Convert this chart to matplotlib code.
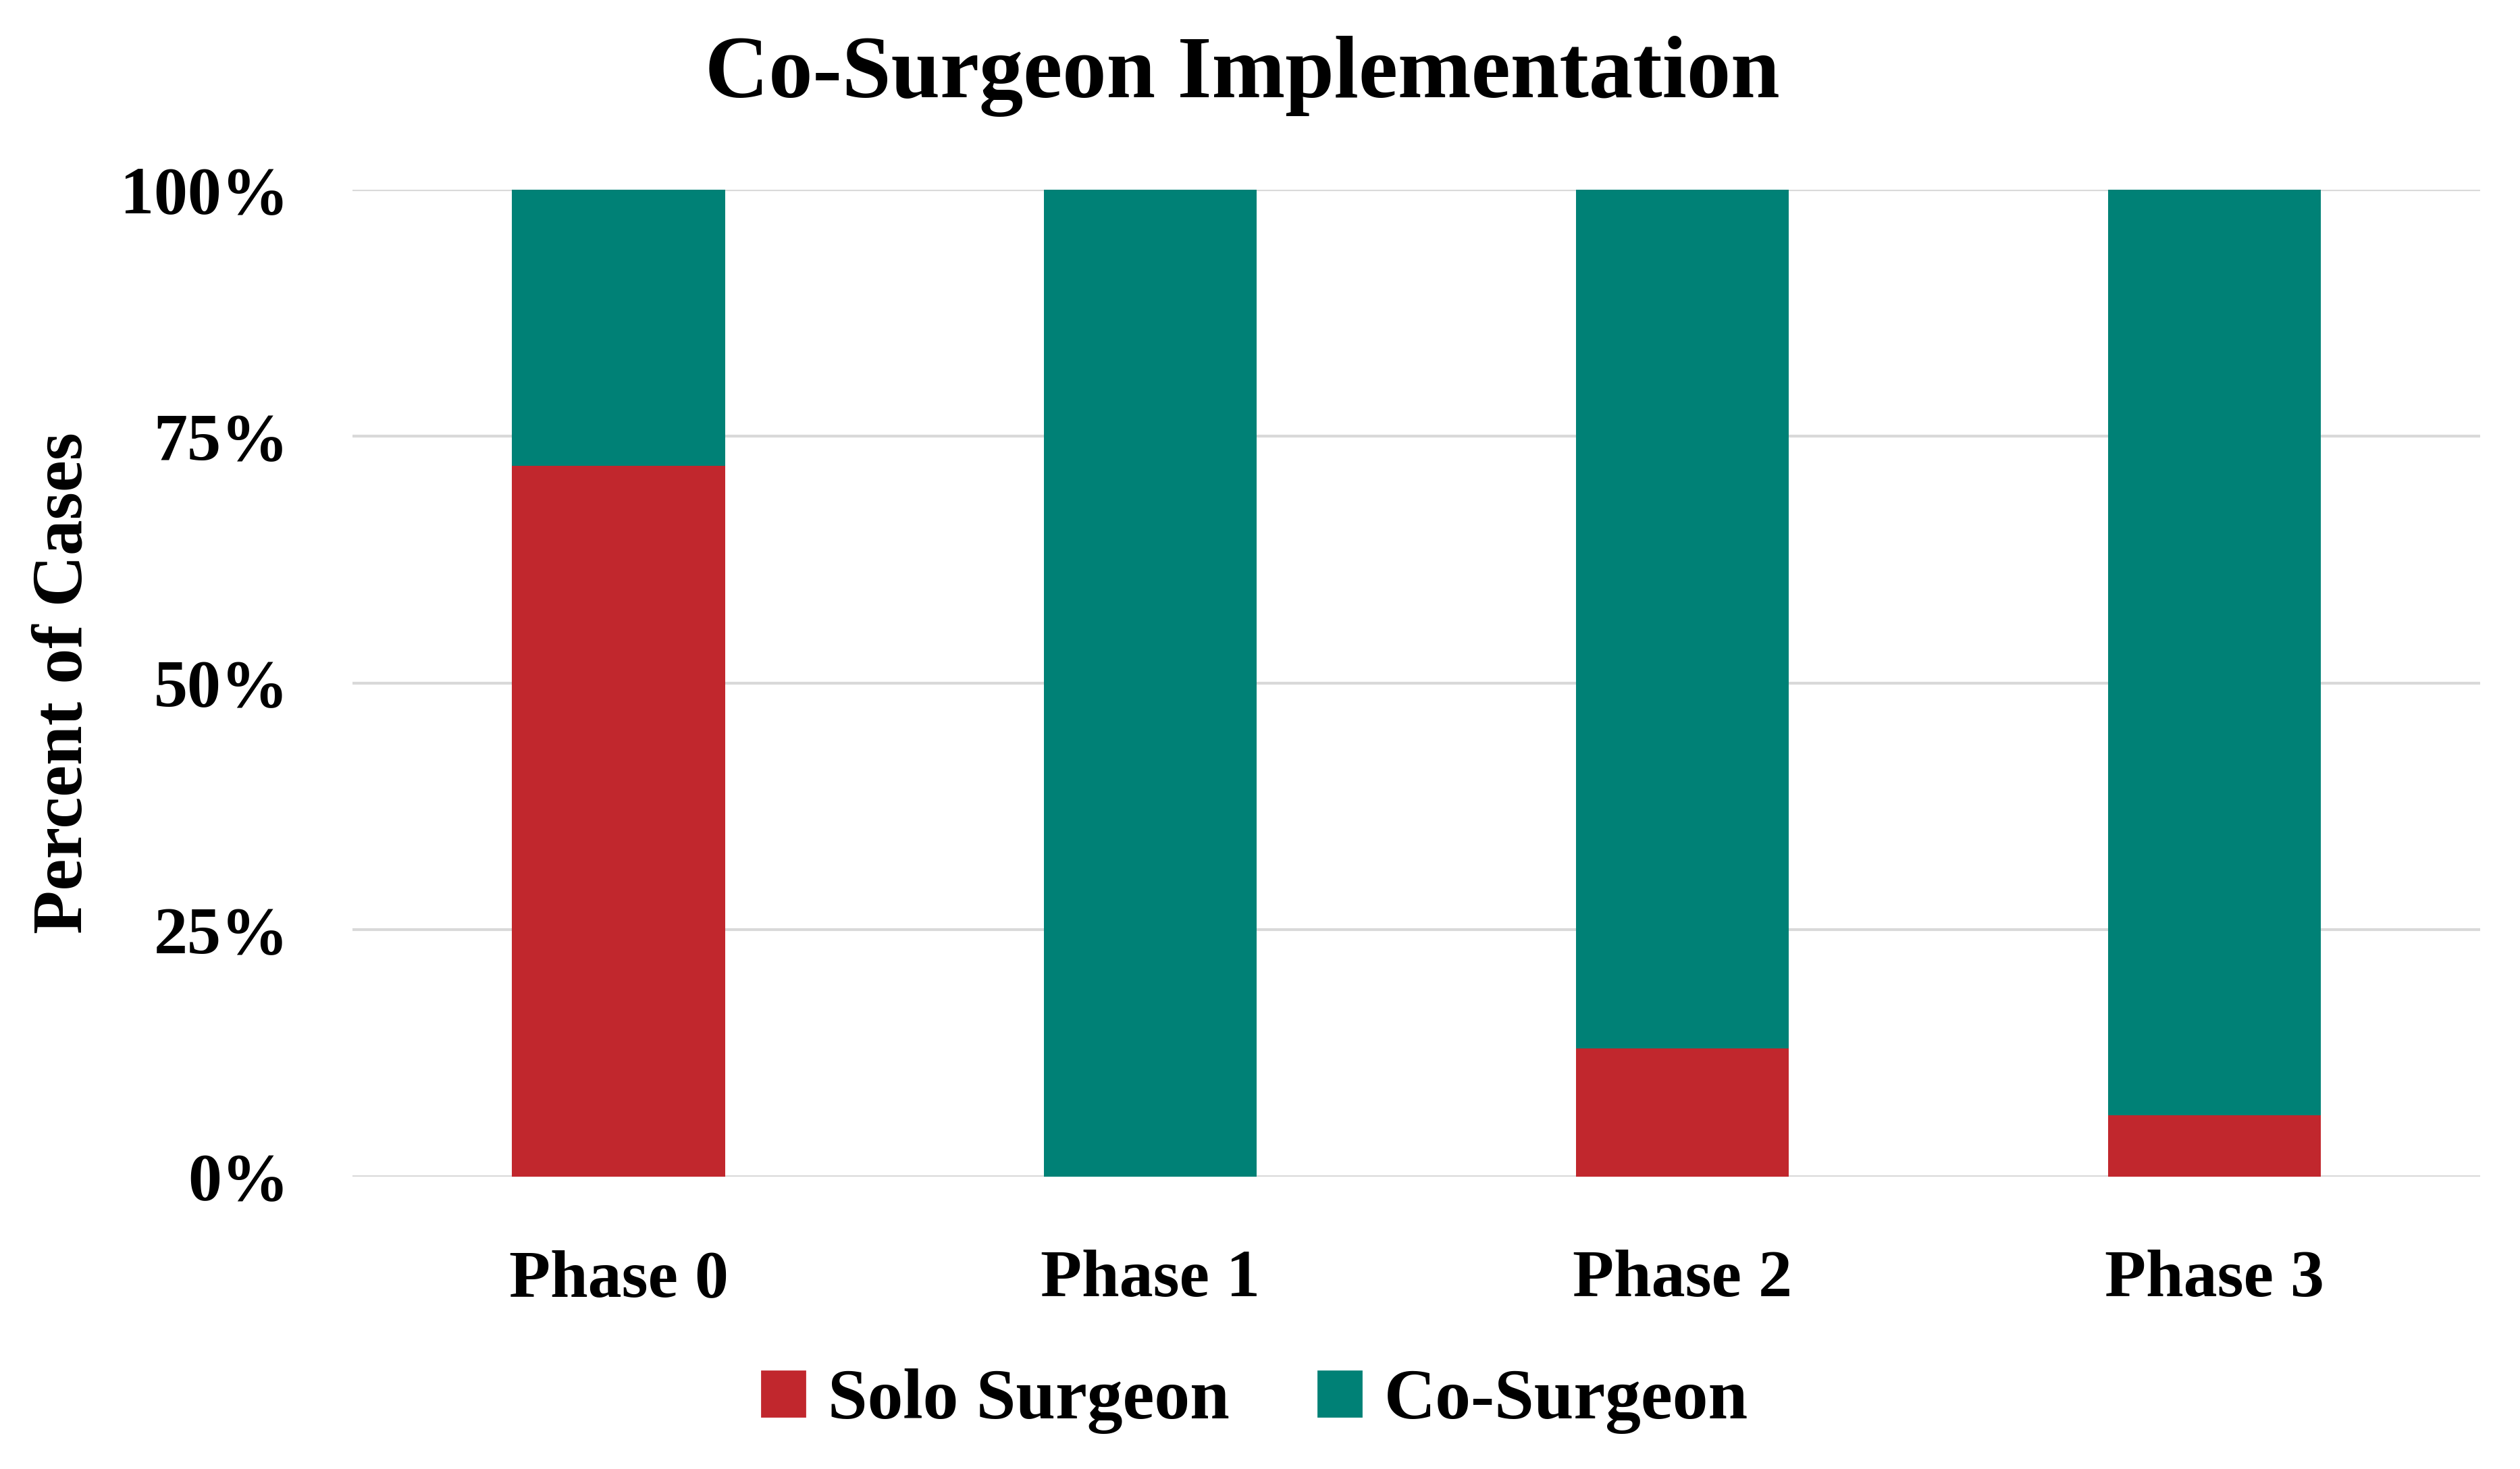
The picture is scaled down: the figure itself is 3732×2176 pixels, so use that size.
import numpy as np
import matplotlib.pyplot as plt
from matplotlib.ticker import PercentFormatter
from matplotlib.patches import Patch

# dados do grafico (fracao de casos)
fases = ['Phase 0', 'Phase 1', 'Phase 2', 'Phase 3']
solo = np.array([0.72, 0.0, 0.13, 0.062])
co = 1 - solo
series = ['Solo Surgeon', 'Co-Surgeon']
cores = ['#C1272D', '#008176']

plt.rcParams['font.family'] = ['Liberation Serif', 'DejaVu Serif']
plt.rcParams['font.weight'] = 'bold'

fig = plt.figure(figsize=(18.66, 10.88), dpi=200)
ax = fig.add_axes([0.1399, 0.199, 0.8443, 0.672])

x = np.arange(len(fases))
ax.bar(x, solo, width=0.4, color=cores[0], zorder=3)
ax.bar(x, co, width=0.4, bottom=solo, color=cores[1], zorder=3)

ax.set_xlim(-0.5, 3.5)
ax.set_ylim(0, 1)
ax.set_yticks([0, 0.25, 0.5, 0.75, 1.0])
ax.yaxis.set_major_formatter(PercentFormatter(1.0, decimals=0))
ax.set_xticks(x)
ax.set_xticklabels(fases)
ax.tick_params(axis='both', length=0, labelsize=36)
ax.tick_params(axis='x', pad=39)
ax.tick_params(axis='y', pad=34)
ax.grid(axis='y', color='#D9D9D9', linewidth=1.5, zorder=0)
for s in ax.spines.values():
    s.set_visible(False)

fig.text(0.493, 0.948, 'Co-Surgeon Implementation', ha='center', va='center',
         fontsize=47, fontweight='bold')
fig.text(0.0255, 0.535, 'Percent of Cases', ha='center', va='center',
         rotation=90, fontsize=38, fontweight='bold')

handles = [Patch(color=c) for c in cores]
fig.legend(handles, series, loc='center', bbox_to_anchor=(0.498, 0.046),
           ncol=2, frameon=False, fontsize=38, handlelength=0.6, handleheight=0.6,
           handletextpad=0.32, columnspacing=1.25)

fig.savefig('out.png', dpi=200, facecolor='white')
